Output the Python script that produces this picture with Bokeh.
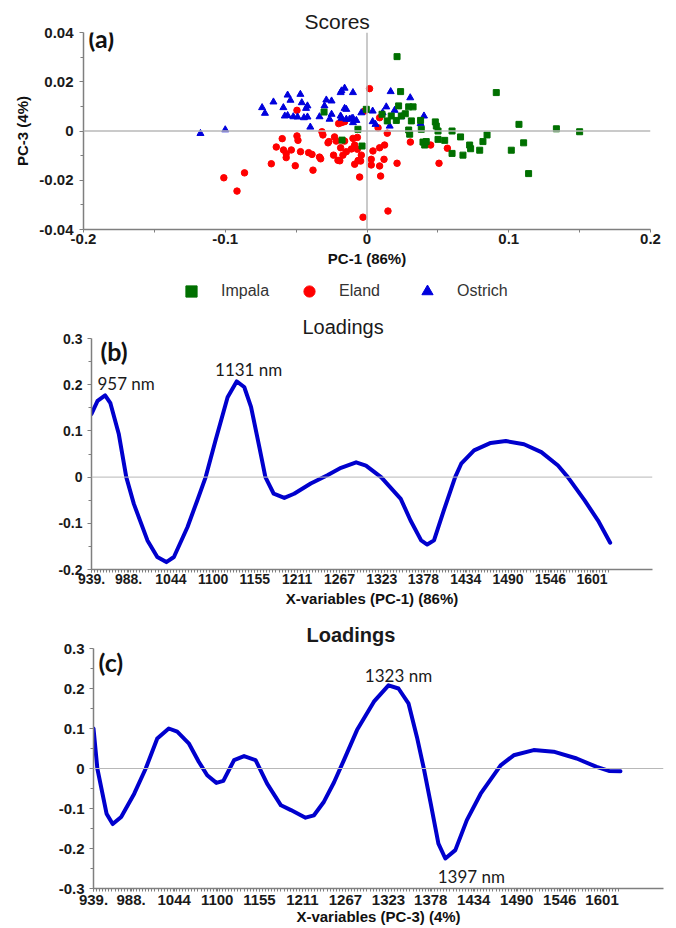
import numpy as np
from bokeh.plotting import figure
from bokeh.models import (ColumnDataSource, FixedTicker, Span, Label, Legend,
                          LegendItem, Range1d)
from bokeh.layouts import column
from bokeh.embed import file_html
from bokeh.resources import INLINE
from bokeh.core.properties import value

# ---------------- Scores: PC-1 vs PC-3 ----------------
impala_pc1 = [0.0212, 0.0237, 0.0912, -0.0005, -0.0064, -0.0176, -0.0035, -0.0303, 0.0106, 0.0143,
              0.0171, 0.0207, 0.0223, 0.0242, 0.0270, 0.0294, 0.0325, 0.0313, 0.0294, 0.0301,
              0.0378, 0.0383, 0.0395, 0.0407, 0.0418, 0.0482, 0.0489, 0.0501, 0.0501, 0.0548,
              0.0600, 0.0600, 0.0660, 0.0677, 0.0724, 0.0731, 0.0795, 0.0818, 0.0847, 0.1018,
              0.1072, 0.1105, 0.1140, 0.1336, 0.1500]
impala_pc3 = [0.0302, 0.0160, 0.0156, 0.0088, 0.0007, -0.0037, -0.0061, 0.0077, 0.0068, 0.0041,
              0.0061, 0.0043, 0.0102, 0.0061, 0.0070, 0.0098, 0.0098, 0.0041, 0.0004, -0.0013,
              0.0043, 0.0007, -0.0045, -0.0057, -0.0043, 0.0037, 0.0020, 0.0000, -0.0034, -0.0038,
              0.0000, -0.0091, -0.0024, -0.0098, -0.0057, -0.0072, -0.0078, -0.0043, -0.0016, -0.0078,
              0.0027, -0.0048, -0.0173, 0.0009, -0.0003]

eland_pc1 = [-0.1010, -0.0917, -0.0864, -0.0675, -0.0640, -0.0598, -0.0589, -0.0570, -0.0570, -0.0534,
             -0.0506, -0.0494, -0.0494, -0.0487, -0.0469, -0.0412, -0.0388, -0.0381, -0.0335, -0.0327,
             -0.0318, -0.0311, -0.0275, -0.0236, -0.0229, -0.0217, -0.0205, -0.0200, -0.0186, -0.0180,
             -0.0158, -0.0146, -0.0170, -0.0099, -0.0068, -0.0087, -0.0068, -0.0040, -0.0045, -0.0087,
             -0.0052, -0.0028, 0.0018, -0.0017, 0.0078, 0.0143, 0.0124, 0.0089, 0.0042, 0.0030,
             0.0030, 0.0089, 0.0120, 0.0096, 0.0148, 0.0212, 0.0306, 0.0449, 0.0508, 0.0567,
             -0.0158, 0.0089, -0.0269, -0.0110, -0.0063, -0.0192]
eland_pc3 = [-0.0190, -0.0244, -0.0170, -0.0133, -0.0065, -0.0031, -0.0077, -0.0092, -0.0108, -0.0077,
             -0.0141, 0.0084, -0.0020, -0.0038, -0.0084, -0.0088, -0.0095, -0.0159, -0.0106, -0.0113,
             -0.0003, -0.0016, -0.0048, -0.0098, -0.0024, -0.0041, -0.0119, 0.0030, -0.0068, 0.0034,
             -0.0041, -0.0084, -0.0098, -0.0030, -0.0026, -0.0057, -0.0074, -0.0098, -0.0122, -0.0135,
             -0.0187, -0.0350, 0.0172, 0.0081, 0.0013, -0.0009, -0.0057, -0.0068, -0.0081, -0.0115,
             -0.0138, -0.0142, -0.0115, -0.0183, -0.0325, -0.0131, -0.0045, -0.0057, -0.0131, -0.0070,
             0.0038, 0.0054, -0.0043, -0.0073, -0.0120, -0.0121]

ostrich_pc1 = [-0.1175, -0.1000, -0.0740, -0.0720, -0.0660, -0.0590, -0.0560, -0.0540, -0.0580, -0.0560,
               -0.0520, -0.0490, -0.0470, -0.0460, -0.0430, -0.0420, -0.0445, -0.0420, -0.0400, -0.0335,
               -0.0300, -0.0287, -0.0250, -0.0264, -0.0250, -0.0186, -0.0180, -0.0158, -0.0099, -0.0158,
               -0.0146, -0.0180, -0.0146, -0.0123, -0.0099, -0.0075, -0.0099, -0.0040, 0.0040, 0.0040,
               0.0060, 0.0110, 0.0136, 0.0167, 0.0160, 0.0195, 0.0242, 0.0305, 0.0378, 0.0402,
               -0.0186, -0.0110]
ostrich_pc3 = [-0.0010, 0.0005, 0.0095, 0.0072, 0.0118, 0.0095, 0.0146, 0.0125, 0.0061, 0.0063,
               0.0058, 0.0057, 0.0149, 0.0115, 0.0092, 0.0102, 0.0054, 0.0057, 0.0016, 0.0058,
               0.0102, 0.0126, 0.0122, 0.0048, 0.0068, 0.0156, 0.0163, 0.0174, 0.0156, 0.0092,
               0.0088, 0.0052, 0.0048, 0.0048, 0.0052, 0.0043, 0.0034, 0.0074, 0.0081, 0.0038,
               0.0027, 0.0074, 0.0098, 0.0160, 0.0020, 0.0084, 0.0058, 0.0135, 0.0030, 0.0061,
               0.0061, 0.0050]

groups = ["Impala", "Eland", "Ostrich"]
score_x_ticks = [-0.2, -0.1, 0.0, 0.1, 0.2]
score_y_ticks = [-0.04, -0.02, 0.0, 0.02, 0.04]

# ---------------- Loadings ----------------
wl_pc1 = [939, 947, 957, 964, 975, 985, 995, 1013, 1026, 1038, 1048, 1066, 1079, 1090, 1103, 1119,
          1131, 1141, 1150, 1161, 1169, 1180, 1194, 1207, 1229, 1251, 1269, 1289, 1302, 1322, 1348,
          1361, 1375, 1383, 1392, 1405, 1420, 1428, 1445, 1467, 1487, 1511, 1534, 1556, 1569, 1591,
          1609, 1625]
loading_pc1 = [0.137, 0.165, 0.177, 0.160, 0.094, 0.0, -0.058, -0.137, -0.173, -0.184, -0.173, -0.108,
               -0.050, 0.0, 0.079, 0.173, 0.207, 0.195, 0.152, 0.065, 0.0, -0.036, -0.045, -0.036,
               -0.014, 0.004, 0.020, 0.032, 0.025, 0.0, -0.047, -0.094, -0.137, -0.146, -0.137, -0.072,
               0.0, 0.029, 0.058, 0.074, 0.078, 0.071, 0.054, 0.025, 0.0, -0.050, -0.094, -0.142]
peaks_pc1 = [957, 1131]

wl_pc3 = [939, 944, 956, 964, 975, 992, 1007, 1022, 1037, 1048, 1063, 1076, 1087, 1099, 1108, 1122,
          1135, 1150, 1165, 1183, 1196, 1215, 1226, 1239, 1252, 1265, 1282, 1304, 1323, 1336, 1349,
          1360, 1369, 1378, 1388, 1397, 1410, 1425, 1443, 1469, 1486, 1512, 1538, 1568, 1594, 1610,
          1625]
loading_pc3 = [0.100, 0.0, -0.113, -0.139, -0.121, -0.063, 0.0, 0.075, 0.100, 0.092, 0.063, 0.017,
               -0.017, -0.036, -0.031, 0.021, 0.031, 0.021, -0.038, -0.092, -0.104, -0.123, -0.117,
               -0.083, -0.035, 0.021, 0.096, 0.167, 0.208, 0.200, 0.163, 0.079, 0.0, -0.088, -0.188,
               -0.225, -0.204, -0.129, -0.063, 0.008, 0.033, 0.046, 0.042, 0.025, 0.004, -0.006, -0.007]
peaks_pc3 = [1323, 1397]

wavelength_ticks = [939, 988, 1044, 1100, 1155, 1211, 1267, 1323, 1378, 1434, 1490, 1546, 1601]
wavelength_tick_labels = {939: "939.", 988: "988."}
loading_b_ticks = [-0.2, -0.1, 0.0, 0.1, 0.2, 0.3]
loading_c_ticks = [-0.3, -0.2, -0.1, 0.0, 0.1, 0.2, 0.3]

# ---------------- styling ----------------
AXIS_GREY = "#7f7f7f"
ZERO_GREY = "#b8b8b8"
LINE_BLUE = "#0000cd"
SANS = "Liberation Sans"
NOTE_FONT = "Lato"
GROUP_STYLE = {
    "Impala": dict(marker="square", size=6, color="#007000"),
    "Eland": dict(marker="circle", size=6.5, color="#ff0000"),
    "Ostrich": dict(marker="triangle", size=7, color="#0000dd"),
}
scores = {"Impala": (impala_pc1, impala_pc3),
          "Eland": (eland_pc1, eland_pc3),
          "Ostrich": (ostrich_pc1, ostrich_pc3)}


def plain_labels(ticks):
    # short labels with an ASCII hyphen for negatives: 0.04, -0.1, 0
    return {t: f"{t:g}" for t in ticks}


def base_figure(width, height, left, right, top, bottom, xr, yr):
    p = figure(width=width, height=height, x_range=Range1d(*xr), y_range=Range1d(*yr),
               output_backend="svg", toolbar_location=None,
               min_border_left=left, min_border_right=right,
               min_border_top=top, min_border_bottom=bottom)
    p.frame_align = False
    p.xgrid.visible = False
    p.ygrid.visible = False
    p.outline_line_color = None
    return p


def style_axis(ax, tick_size, label_size, tick_out, standoff, label_standoff):
    ax.axis_line_color = AXIS_GREY
    ax.axis_line_width = 1.5
    ax.major_tick_line_color = AXIS_GREY
    ax.minor_tick_line_color = AXIS_GREY
    ax.major_tick_in = 0
    ax.minor_tick_in = 0
    ax.major_tick_out = tick_out
    ax.minor_tick_out = 3
    ax.major_label_standoff = standoff
    ax.major_label_text_font = SANS
    ax.major_label_text_font_style = "bold"
    ax.major_label_text_font_size = tick_size
    ax.major_label_text_color = "#1a1a1a"
    ax.axis_label_text_font = SANS
    ax.axis_label_text_font_style = "bold"
    ax.axis_label_text_font_size = label_size
    ax.axis_label_text_color = "#111111"
    ax.axis_label_standoff = label_standoff


def set_title(p, text, offset, standoff, size="20px", style="normal"):
    p.title.text = text
    p.title.align = "left"
    p.title.offset = offset
    p.title.standoff = standoff
    p.title.text_font = SANS
    p.title.text_font_size = size
    p.title.text_font_style = style
    p.title.text_color = "#1a1a1a"


def panel_letter(p, text, x, y, dx, dy):
    p.add_layout(Label(x=x, y=y, text=text, x_offset=dx, y_offset=dy,
                       text_font=NOTE_FONT, text_font_style="bold", text_font_size="25px",
                       text_baseline="top", text_align="left", text_color="#111111"))


def peak_labels(p, wl, ld, peaks, dx, dy):
    src = ColumnDataSource(dict(
        x=peaks,
        y=[ld[wl.index(w)] for w in peaks],
        text=[f"{w} nm" for w in peaks],
        dx=dx, dy=dy))
    p.text(x="x", y="y", text="text", x_offset="dx", y_offset="dy", source=src,
           text_align="center", text_baseline="middle", text_font=value(NOTE_FONT),
           text_font_size="17px", text_color="#1a1a1a")


def group_scatter(p, name):
    st = GROUP_STYLE[name]
    xs, ys = scores[name]
    return p.scatter(xs, ys, marker=st["marker"], size=st["size"],
                     fill_color=st["color"], line_color=st["color"])


# ---------------- (a) Scores ----------------
pa = base_figure(676, 272, 83, 26, 32, 43, (-0.2, 0.2), (-0.04, 0.04))
set_title(pa, "Scores", 221, 0, size="21px")
pa.add_layout(Span(location=0, dimension="width", line_color=ZERO_GREY, line_width=1.5))
pa.add_layout(Span(location=0, dimension="height", line_color=ZERO_GREY, line_width=1.5))
for name in ["Eland", "Ostrich", "Impala"]:
    group_scatter(pa, name)

pa.xaxis.ticker = FixedTicker(ticks=score_x_ticks, minor_ticks=[-0.15, -0.05, 0.05, 0.15])
pa.yaxis.ticker = FixedTicker(ticks=score_y_ticks, minor_ticks=[-0.03, -0.01, 0.01, 0.03])
pa.xaxis.major_label_overrides = plain_labels(score_x_ticks)
pa.yaxis.major_label_overrides = plain_labels(score_y_ticks)
pa.xaxis.axis_label = "PC-1 (86%)"
pa.yaxis.axis_label = "PC-3 (4%)"
style_axis(pa.xaxis[0], "15px", "15px", 3, 1, 3)
style_axis(pa.yaxis[0], "15px", "15px", 4, 6, 5)
panel_letter(pa, "(a)", -0.2, 0.04, 5, 10)

# ---------------- legend strip under the scores ----------------
# The strip's ranges lie away from the score values, so only the legend shows.
key = figure(width=676, height=33, x_range=Range1d(10, 11), y_range=Range1d(10, 11),
             output_backend="svg", toolbar_location=None,
             x_axis_location=None, y_axis_location=None, min_border=0)
key.frame_align = False
key.xgrid.visible = False
key.ygrid.visible = False
key.outline_line_color = None
items = [LegendItem(label=name, renderers=[group_scatter(key, name)]) for name in groups]
key.add_layout(Legend(items=items, orientation="horizontal", location=(177, 0),
                      glyph_width=28, glyph_height=28, label_standoff=16, label_width=62,
                      spacing=12, padding=1, margin=0, border_line_color=None,
                      background_fill_alpha=0, label_text_font=SANS,
                      label_text_font_size="16px", label_text_color="#333333"))

# ---------------- (b) PC-1 loadings ----------------
pb = base_figure(676, 310, 91, 24, 33, 46, (939, 1681), (-0.2, 0.3))
set_title(pb, "Loadings", 211, 2)
pb.add_layout(Span(location=0, dimension="width", line_color=ZERO_GREY, line_width=1))
pb.line(wl_pc1, loading_pc1, line_color=LINE_BLUE, line_width=4, line_join="round", line_cap="round")
minor_wl = [float(v) for v in np.arange(939, 1626, 4)]
pb.xaxis.ticker = FixedTicker(ticks=wavelength_ticks, minor_ticks=minor_wl)
pb.xaxis.major_label_overrides = wavelength_tick_labels
pb.yaxis.ticker = FixedTicker(ticks=loading_b_ticks, minor_ticks=[-0.15, -0.05, 0.05, 0.15, 0.25])
pb.yaxis.major_label_overrides = plain_labels(loading_b_ticks)
pb.xaxis.axis_label = "X-variables (PC-1) (86%)"
style_axis(pb.xaxis[0], "14px", "15px", 3, 1, 3)
style_axis(pb.yaxis[0], "14px", "15px", 4, 5, 5)
panel_letter(pb, "(b)", 939, 0.3, 9, 3)
peak_labels(pb, wl_pc1, loading_pc1, peaks_pc1, [21, 12], [-12, -12])

# ---------------- (c) PC-3 loadings ----------------
pc = base_figure(676, 313, 93, 13, 33, 40, (939, 1681), (-0.3, 0.3))
set_title(pc, "Loadings", 213, 6, style="bold")
pc.add_layout(Span(location=0, dimension="width", line_color=ZERO_GREY, line_width=1))
pc.line(wl_pc3, loading_pc3, line_color=LINE_BLUE, line_width=4, line_join="round", line_cap="round")
pc.xaxis.ticker = FixedTicker(ticks=wavelength_ticks, minor_ticks=minor_wl)
pc.xaxis.major_label_overrides = wavelength_tick_labels
pc.yaxis.ticker = FixedTicker(ticks=loading_c_ticks,
                              minor_ticks=[-0.25, -0.15, -0.05, 0.05, 0.15, 0.25])
pc.yaxis.major_label_overrides = plain_labels(loading_c_ticks)
pc.xaxis.axis_label = "X-variables (PC-3) (4%)"
style_axis(pc.xaxis[0], "15px", "15px", 3, 3, 0)
style_axis(pc.yaxis[0], "15px", "15px", 4, 5, 5)
panel_letter(pc, "(c)", 939, 0.3, 5, 2)
peak_labels(pc, wl_pc3, loading_pc3, peaks_pc3, [10, 26], [-10, 18])

layout = column(pa, key, pb, pc, spacing=0)
open("out.html", "w").write(file_html(layout, INLINE))
